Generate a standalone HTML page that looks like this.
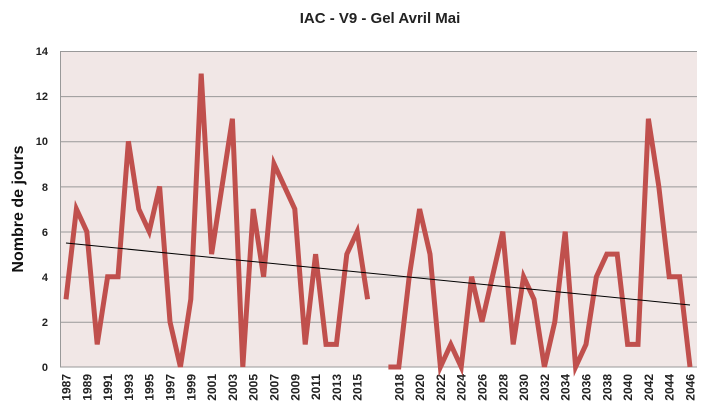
<!DOCTYPE html>
<html><head><style>body{margin:0;background:#fff}svg{display:block;font-family:"Liberation Sans",sans-serif}</style></head><body>
<svg width="717" height="420" xmlns="http://www.w3.org/2000/svg">
<text x="380" y="23" text-anchor="middle" font-size="15" font-weight="bold" fill="#222">IAC - V9 - Gel Avril Mai</text>
<rect x="60" y="51" width="637" height="316" fill="#f1e7e6"/>
<g stroke="#999" stroke-width="1">
<line x1="60" x2="697" y1="51.5" y2="51.5"/><line x1="60" x2="697" y1="96.6" y2="96.6"/><line x1="60" x2="697" y1="141.7" y2="141.7"/><line x1="60" x2="697" y1="186.9" y2="186.9"/><line x1="60" x2="697" y1="232" y2="232"/><line x1="60" x2="697" y1="277.1" y2="277.1"/><line x1="60" x2="697" y1="322.2" y2="322.2"/><line x1="60" x2="697" y1="367" y2="367"/>
<line x1="60.5" x2="60.5" y1="51" y2="367"/>
</g>
<g font-size="11" font-weight="bold" fill="#222" text-anchor="end">
<text x="48" y="55">14</text><text x="48" y="100">12</text><text x="48" y="145">10</text><text x="48" y="191">8</text><text x="48" y="236">6</text><text x="48" y="281">4</text><text x="48" y="326">2</text><text x="48" y="371">0</text>
</g>
<text transform="translate(23,209) rotate(-90)" text-anchor="middle" font-size="16" font-weight="bold" fill="#111">Nombre de jours</text>
<g font-size="12" font-weight="bold" fill="#222" text-anchor="end">
<text transform="translate(70.5,374) rotate(-90)">1987</text>
<text transform="translate(91.3,374) rotate(-90)">1989</text>
<text transform="translate(112.1,374) rotate(-90)">1991</text>
<text transform="translate(132.9,374) rotate(-90)">1993</text>
<text transform="translate(153.7,374) rotate(-90)">1995</text>
<text transform="translate(174.5,374) rotate(-90)">1997</text>
<text transform="translate(195.3,374) rotate(-90)">1999</text>
<text transform="translate(216.1,374) rotate(-90)">2001</text>
<text transform="translate(236.9,374) rotate(-90)">2003</text>
<text transform="translate(257.7,374) rotate(-90)">2005</text>
<text transform="translate(278.5,374) rotate(-90)">2007</text>
<text transform="translate(299.3,374) rotate(-90)">2009</text>
<text transform="translate(320.1,374) rotate(-90)">2011</text>
<text transform="translate(340.9,374) rotate(-90)">2013</text>
<text transform="translate(361.7,374) rotate(-90)">2015</text>
<text transform="translate(403.3,374) rotate(-90)">2018</text>
<text transform="translate(424.1,374) rotate(-90)">2020</text>
<text transform="translate(444.9,374) rotate(-90)">2022</text>
<text transform="translate(465.7,374) rotate(-90)">2024</text>
<text transform="translate(486.5,374) rotate(-90)">2026</text>
<text transform="translate(507.3,374) rotate(-90)">2028</text>
<text transform="translate(528.1,374) rotate(-90)">2030</text>
<text transform="translate(548.9,374) rotate(-90)">2032</text>
<text transform="translate(569.7,374) rotate(-90)">2034</text>
<text transform="translate(590.5,374) rotate(-90)">2036</text>
<text transform="translate(611.3,374) rotate(-90)">2038</text>
<text transform="translate(632.1,374) rotate(-90)">2040</text>
<text transform="translate(652.9,374) rotate(-90)">2042</text>
<text transform="translate(673.7,374) rotate(-90)">2044</text>
<text transform="translate(694.5,374) rotate(-90)">2046</text>
</g>
<polyline id="s1" fill="none" stroke="#c0504d" stroke-width="5" stroke-linejoin="miter"/>
<polyline id="s2" fill="none" stroke="#c0504d" stroke-width="5" stroke-linejoin="miter"/>
<line x1="66" y1="243" x2="690" y2="305" stroke="#000" stroke-width="1"/>
<script>
var a=[3,7,6,1,4,4,10,7,6,8,2,0,3,13,5,8,11,0,7,4,9,8,7,1,5,1,1,5,6,3];
var b=[0,0,4,7,5,0,1,0,4,2,4,6,1,4,3,0,2,6,0,1,4,5,5,1,1,11,8,4,4,0];
function X(i){return 66+i*10.4}function Y(v){return 367-v*22.57}
document.getElementById('s1').setAttribute('points',a.map(function(v,i){return X(i)+','+Y(v)}).join(' '));
document.getElementById('s2').setAttribute('points',b.map(function(v,i){return X(i+31)+','+Y(v)}).join(' '));
</script>
</svg>
</body></html>
